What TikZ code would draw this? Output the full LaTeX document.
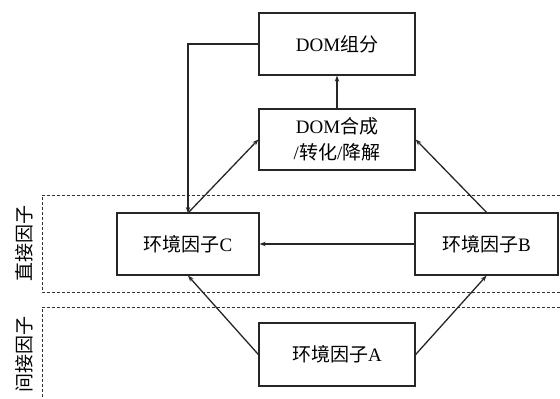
\documentclass[tikz,border=0pt]{standalone}
\usepackage{fontspec}
\setmainfont{Liberation Serif}
\newfontfamily\cjk{Noto Sans CJK SC}
\usetikzlibrary{arrows.meta}
\begin{document}
\begin{tikzpicture}[x=1pt,y=-1pt,
  boxst/.style={draw=black!85,line width=1.3pt,inner sep=0pt,font=\fontsize{19}{26}\selectfont},
  arr/.style={line width=1.3pt,draw=black!85,-{Stealth[length=6pt,width=4.5pt]}},
  dashbox/.style={draw=black!80,line width=0.9pt,dash pattern=on 3pt off 2pt},
  sidelab/.style={rotate=90,font=\cjk\fontsize{19}{22}\selectfont}]
\useasboundingbox (0,0) rectangle (560,399);
% dashed regions
\draw[dashbox] (560,195) -- (42,195) -- (42,292) -- (560,292);
\draw[dashbox] (560,307) -- (42,307) -- (42,399);
\node[sidelab] (ld) at (24,243) {直接因子};
\node[sidelab] (li) at (24,354) {间接因子};
% boxes
\node[boxst,minimum width=156pt,minimum height=62pt] (comp) at (337,44) {DOM{\cjk 组分}};
\node[boxst,minimum width=156pt,minimum height=61pt,align=center] (proc) at (337,139.5) {DOM{\cjk 合成}\\/{\cjk 转化}/{\cjk 降解}};
\node[boxst,minimum width=142pt,minimum height=62pt] (C) at (188,244) {{\cjk 环境因子}C};
\node[boxst,minimum width=143pt,minimum height=62pt] (B) at (486.5,244) {{\cjk 环境因子}B};
\node[boxst,minimum width=156pt,minimum height=63pt] (A) at (337,354.5) {{\cjk 环境因子}A};
% connectors
\coordinate (ctop) at (188,213);
\coordinate (corner) at (188,44);
\draw[arr] (proc.north) -- (comp.south);
\draw[arr] (comp.west) -- (corner) -- (ctop);
\draw[arr] (ctop) -- (proc.west);
\draw[arr] (B.north) -- (proc.east);
\draw[arr] (B.west) -- (C.east);
\draw[arr] (A.west) -- (C.south);
\draw[arr] (A.east) -- (B.south);
\end{tikzpicture}
\end{document}
